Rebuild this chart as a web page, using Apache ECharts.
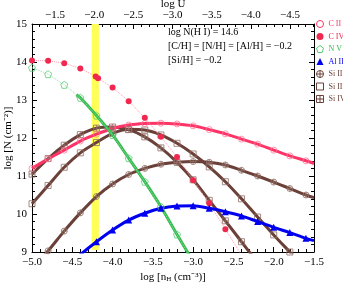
<!DOCTYPE html>
<html><head><meta charset="utf-8">
<script src="https://cdn.jsdelivr.net/npm/echarts@6/dist/echarts.min.js"></script>
<style>html,body{margin:0;padding:0;background:#fff}#c{width:343px;height:284px}</style>
</head><body><div id="c"></div>
<script>
// model grid (log n_H)
const nH = [-5.0,-4.8,-4.6,-4.4,-4.2,-4.0,-3.8,-3.6,-3.4,-3.2,-3.0,-2.8,-2.6,-2.4,-2.2,-2.0,-1.8,-1.6,-1.5];
const cII  = [11.20,11.45,11.68,11.92,12.10,12.25,12.34,12.38,12.39,12.37,12.32,12.22,12.11,11.97,11.84,11.68,11.53,11.40,11.33];
const siII = [8.55,9.03,9.55,10.03,10.46,10.79,11.04,11.20,11.31,11.36,11.38,11.36,11.29,11.15,11.00,10.84,10.67,10.50,10.43];
const siIII= [10.27,10.75,11.23,11.61,11.88,12.12,12.23,12.21,12.08,11.86,11.58,11.24,10.85,10.40,9.92,9.45,9.00,8.55,8.32];
const siIV = [11.05,11.46,11.81,12.09,12.26,12.29,12.22,12.03,11.74,11.36,10.90,10.36,9.82,9.27,8.72,8.15,7.60,7.05,6.80];
const alII = [7.60,8.10,8.55,8.93,9.27,9.58,9.84,10.02,10.15,10.21,10.22,10.15,10.06,9.95,9.80,9.65,9.51,9.36,9.30];
const civX = [-5.0,-4.8,-4.6,-4.4,-4.21,-4.18,-4.0,-3.8,-3.6,-3.4,-3.2,-3.0,-2.8,-2.6,-2.4];
const civY = [14.04,14.03,13.97,13.83,13.62,13.57,13.33,12.97,12.53,12.03,11.50,10.89,10.28,9.60,8.92];
const nvX = [-5.0,-4.8,-4.6,-4.4,-4.2,-4.0,-3.8,-3.6,-3.4,-3.2,-3.0];
const nvY = [13.85,13.68,13.40,13.06,12.59,12.08,11.47,10.85,10.19,9.46,8.75];
const nvFitX = [-4.45,-4.4,-4.2,-4.0,-3.8,-3.6,-3.4,-3.2,-3.0];
const nvFitY = [13.14,13.06,12.59,12.08,11.47,10.85,10.19,9.46,8.75];
const bandX = [-4.26,-4.17];
const bandY = [9.05,15];
const xTicks = [-5.0,-4.5,-4.0,-3.5,-3.0,-2.5,-2.0,-1.5];
const uTicks = [-1.5,-2.0,-2.5,-3.0,-3.5,-4.0,-4.5];
const uRange = [-4.8066,-1.2064];
const legendNames = ['C II','C IV','N V','Al II','Si II','Si III','Si IV'];

const FONT = 'Liberation Serif';
const PINK = '#ff3366', RED = '#f0284f', GREEN = '#33bb4d', GREEN2 = '#55cc70', BLUE = '#0000f0', BROWN = '#6a4038', BROWNM = '#8f6f66';
const circ = 'path://M0,5A5,5 0 1,1 10,5A5,5 0 1,1 0,5Z';
const circPlus = 'path://M0,5A5,5 0 1,1 10,5A5,5 0 1,1 0,5ZM5,0L5,10M0,5L10,5';
const sq = 'path://M0,0L10,0L10,10L0,10Z';
const sqPlus = 'path://M0,0L10,0L10,10L0,10ZM5,0L5,10M0,5L10,5';
const pent = 'path://M5,0L10,3.8L8.1,10L1.9,10L0,3.8Z';
const fmt = v => (v < 0 ? '\u2212' : '') + Math.abs(v).toFixed(1);

function pts(xs, ys, hideLast) {
  return xs.map((x, i) => (hideLast && i === xs.length - 1) ? {value:[x, ys[i]], symbol:'none'} : [x, ys[i]]);
}
function lineSeries(name, ys, color, mcolor, symbol) {
  return {name, type:'line', data:pts(nH, ys, true), smooth:0.3, z:3,
    symbol, symbolSize:6, showAllSymbol:true,
    lineStyle:{color, width:3},
    itemStyle:{color:'rgba(0,0,0,0)', borderColor:mcolor, borderWidth:0.8}};
}

const chart = echarts.init(document.getElementById('c'), null, {renderer:'canvas'});
const uMinor = [];
for (let k = -48; k <= -12; k++) uMinor.push(k / 10);

chart.setOption({
  animation:false,
  grid:{left:32, right:29, top:24, bottom:32, containLabel:false, outerBoundsMode:'none'},
  xAxis:[
    {type:'value', position:'bottom', min:-5, max:-1.5, interval:0.5,
     axisLine:{show:true, onZero:false, lineStyle:{color:'#000', width:1}},
     axisTick:{inside:true, length:5, lineStyle:{color:'#000'}},
     minorTick:{show:true, splitNumber:5, length:3, lineStyle:{color:'#000'}},
     splitLine:{show:false},
     axisLabel:{formatter:fmt, fontFamily:FONT, fontSize:11, color:'#000', margin:5},
     name:'log [n{s|H} (cm\u207B\u00B3)]', nameLocation:'middle', nameGap:19, nameMoveOverlap:false,
     nameTextStyle:{fontFamily:FONT, fontSize:11, color:'#000',
       rich:{s:{fontFamily:FONT, fontSize:7, color:'#000', padding:[5,0,0,0]}}}},
    {type:'value', position:'top', min:uRange[0], max:uRange[1], inverse:true,
     axisLine:{show:true, onZero:false, lineStyle:{color:'#000', width:1}},
     axisTick:{inside:true, length:5, customValues:uTicks, lineStyle:{color:'#000'}},
     splitLine:{show:false},
     axisLabel:{customValues:uTicks, formatter:fmt, fontFamily:FONT, fontSize:11, color:'#000', margin:3},
     name:'log U', nameLocation:'middle', nameGap:14, nameMoveOverlap:false,
     nameTextStyle:{fontFamily:FONT, fontSize:11, color:'#000'}},
    {type:'value', position:'top', min:uRange[0], max:uRange[1], inverse:true,
     axisLine:{show:false},
     axisTick:{inside:true, length:3, customValues:uMinor, lineStyle:{color:'#000'}},
     axisLabel:{show:false}, splitLine:{show:false}}
  ],
  yAxis:[
    {type:'value', position:'left', min:9, max:15, interval:1,
     axisLine:{show:true, onZero:false, lineStyle:{color:'#000', width:1}},
     axisTick:{inside:true, length:5, lineStyle:{color:'#000'}},
     minorTick:{show:true, splitNumber:5, length:3, lineStyle:{color:'#000'}},
     splitLine:{show:false},
     axisLabel:{fontFamily:FONT, fontSize:11, color:'#000', margin:5},
     name:'log [N (cm\u207B\u00B2)]', nameLocation:'middle', nameGap:18, nameRotate:90, nameMoveOverlap:false,
     nameTextStyle:{fontFamily:FONT, fontSize:11, color:'#000'}},
    {type:'value', position:'right', min:9, max:15, interval:1,
     axisLine:{show:true, onZero:false, lineStyle:{color:'#000', width:1}},
     axisTick:{inside:true, length:5, lineStyle:{color:'#000'}},
     minorTick:{show:true, splitNumber:5, length:3, lineStyle:{color:'#000'}},
     splitLine:{show:false}, axisLabel:{show:false}}
  ],
  legend:{orient:'vertical', left:316, top:20, itemWidth:7, itemHeight:7, itemGap:4.5, padding:0,
    textStyle:{fontFamily:FONT, fontSize:8},
    data:[
      {name:'C II', icon:circ, itemStyle:{color:'rgba(0,0,0,0)', borderColor:PINK, borderWidth:1}, textStyle:{color:PINK}},
      {name:'C IV', icon:'circle', itemStyle:{color:RED, borderWidth:0}, textStyle:{color:RED}},
      {name:'N V', icon:pent, itemStyle:{color:'rgba(0,0,0,0)', borderColor:GREEN2, borderWidth:1}, textStyle:{color:GREEN}},
      {name:'Al II', icon:'triangle', itemStyle:{color:BLUE, borderWidth:0}, textStyle:{color:BLUE}},
      {name:'Si II', icon:circPlus, itemStyle:{color:'rgba(0,0,0,0)', borderColor:BROWN, borderWidth:1}, textStyle:{color:BROWN}},
      {name:'Si III', icon:sq, itemStyle:{color:'rgba(0,0,0,0)', borderColor:BROWN, borderWidth:1}, textStyle:{color:BROWN}},
      {name:'Si IV', icon:sqPlus, itemStyle:{color:'rgba(0,0,0,0)', borderColor:BROWN, borderWidth:1}, textStyle:{color:BROWN}}
    ]},
  graphic:[
    {type:'text', left:168, top:27, style:{text:'log N(H I) = 14.6', font:'10px "Liberation Serif"', fill:'#000'}},
    {type:'text', left:168, top:41, style:{text:'[C/H] = [N/H] = [Al/H] = \u22120.2', font:'10px "Liberation Serif"', fill:'#000'}},
    {type:'text', left:168, top:55, style:{text:'[Si/H] = \u22120.2', font:'10px "Liberation Serif"', fill:'#000'}}
  ],
  series:[
    {type:'custom', z:1, silent:true, data:[[bandX[0], bandY[0], bandX[1], bandY[1]]],
     renderItem:(params, api) => {
       const p0 = api.coord([api.value(0), api.value(1)]);
       const p1 = api.coord([api.value(2), api.value(3)]);
       return {type:'rect', shape:{x:p0[0], y:p1[1], width:p1[0]-p0[0], height:p0[1]-p1[1]},
               style:{fill:'#ffff55'}};
     }},
    lineSeries('Si II', siII, BROWN, BROWNM, circPlus),
    lineSeries('Si III', siIII, BROWN, BROWNM, sq),
    lineSeries('Si IV', siIV, BROWN, BROWNM, sqPlus),
    lineSeries('C II', cII, PINK, '#ff7799', circ),
    {name:'C IV', type:'line', z:4, data:pts(civX, civY, false), symbol:'circle', symbolSize:6,
     lineStyle:{color:'#ff99aa', width:1, type:'dotted'}, itemStyle:{color:RED}},
    {name:'N V fit', type:'line', z:4, data:pts(nvFitX, nvFitY, false), smooth:0.3, symbol:'none',
     lineStyle:{color:GREEN, width:3}},
    {name:'N V', type:'line', z:5, data:pts(nvX, nvY, false), symbol:pent, symbolSize:7,
     lineStyle:{color:'#99ddaa', width:1, type:'dotted'},
     itemStyle:{color:'rgba(0,0,0,0)', borderColor:GREEN2, borderWidth:0.8}},
    {name:'Al II', type:'line', z:5, data:pts(nH, alII, true), smooth:0.3, symbol:'triangle', symbolSize:7,
     lineStyle:{color:BLUE, width:3}, itemStyle:{color:BLUE}}
  ]
});
</script></body></html>
